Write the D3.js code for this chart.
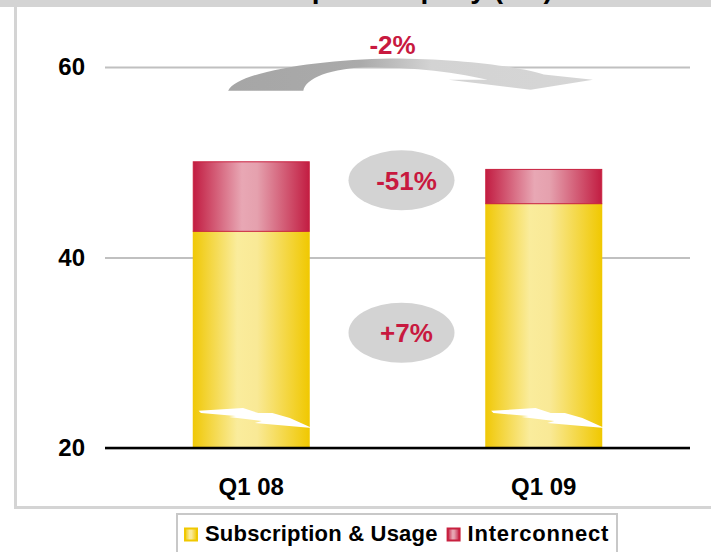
<!DOCTYPE html>
<html>
<head>
<meta charset="utf-8">
<script src="https://cdn.jsdelivr.net/npm/d3@7"></script>
<style>
  html, body { margin: 0; padding: 0; background: #fff; }
  svg { display: block; font-family: "Liberation Sans", Arial, sans-serif; }
</style>
</head>
<body>
<svg id="chart" width="711" height="552"></svg>
<script>
// data
const categories = ["Q1 08", "Q1 09"];
const subscription = [42.8, 45.7];
const interconnect = [7.3, 3.6];
const yTicks = [20, 40, 60];
const seriesNames = ["Subscription & Usage", "Interconnect"];
const changeLabels = ["-2%", "-51%", "+7%"];
const title = "Revenue per company (€m)";

const W = 711, H = 552;
const svg = d3.select("#chart");
const defs = svg.append("defs");

const x = d3.scaleBand().domain(categories).range([105, 690]).paddingInner(0.6).paddingOuter(0.3);
const y = d3.scaleLinear().domain([20, 60]).range([448, 67]);

// gradients
function hGrad(id, stops){
  const g = defs.append("linearGradient").attr("id", id)
    .attr("x1", "0%").attr("x2", "100%").attr("y1", "0%").attr("y2", "0%");
  stops.forEach(s => g.append("stop").attr("offset", s[0]).attr("stop-color", s[1]));
}
hGrad("gYellow", [["0%", "#f0c806"], ["38%", "#faec9c"], ["55%", "#f9e996"], ["100%", "#f0c800"]]);
hGrad("gRed", [["0%", "#c21d42"], ["42%", "#e8a7b4"], ["55%", "#e5a1ae"], ["100%", "#c21d42"]]);
const arrowGrad = defs.append("linearGradient").attr("id", "gArrow")
  .attr("gradientUnits", "userSpaceOnUse").attr("x1", 228).attr("x2", 597).attr("y1", 0).attr("y2", 0);
[["0%", "#a6a6a6"], ["36%", "#aaaaaa"], ["55%", "#d3d3d3"], ["100%", "#d6d6d6"]]
  .forEach(s => arrowGrad.append("stop").attr("offset", s[0]).attr("stop-color", s[1]));

// frame (the slide title sits above the crop, only its descenders show)
svg.append("rect").attr("x", 15.5).attr("y", 3.5).attr("width", 710).attr("height", 504)
  .attr("fill", "none").attr("stroke", "#d4d4d4").attr("stroke-width", 3);
svg.append("rect").attr("x", 0).attr("y", 0).attr("width", W).attr("height", 7).attr("fill", "#d4d4d4");
svg.append("text").attr("x", 370).attr("y", -2).attr("text-anchor", "middle")
  .attr("font-size", 28).attr("font-weight", "bold").attr("fill", "#000").text(title);

// grid + y labels
const yAxis = svg.append("g").attr("transform", "translate(105,0)")
  .call(d3.axisLeft(y).tickValues(yTicks).tickSize(-585).tickPadding(20).tickFormat(d3.format("d")));
yAxis.select(".domain").remove();
yAxis.selectAll(".tick line").attr("stroke", "#c0c0c0").attr("stroke-width", 2);
yAxis.selectAll(".tick text").attr("font-size", 24).attr("font-weight", "bold").attr("fill", "#000")
  .attr("font-family", "Liberation Sans, Arial, sans-serif");

// bars
const bars = svg.append("g");
categories.forEach((c, i) => {
  const x0 = x(c), bw = x.bandwidth();
  const s = subscription[i], t = subscription[i] + interconnect[i];
  bars.append("rect").attr("x", x0).attr("y", y(s)).attr("width", bw).attr("height", y(20) - y(s))
    .attr("fill", "url(#gYellow)");
  bars.append("rect").attr("x", x0 + 0.5).attr("y", y(t) + 0.5).attr("width", bw - 1).attr("height", y(s) - y(t))
    .attr("fill", "url(#gRed)").attr("stroke", "#c8203f").attr("stroke-width", 1);
});

// white flash near the bar bottoms (fraction of band, value)
const bolt = [[0.05, 23.9], [0.43, 24.2], [0.56, 23.67], [0.68, 23.67], [0.83, 23.15], [1.02, 22.1],
  [0.53, 22.62], [0.59, 22.83], [0.31, 23.25], [0.37, 23.36], [0.07, 23.67]];
categories.forEach(c => {
  bars.append("polygon")
    .attr("points", bolt.map(p => [x(c) + p[0] * x.bandwidth(), y(p[1])].join(",")).join(" "))
    .attr("fill", "#fff");
});

// base line
svg.append("line").attr("x1", 105).attr("x2", 690).attr("y1", y(20)).attr("y2", y(20))
  .attr("stroke", "#000").attr("stroke-width", 2.5);

// x labels
const xAxis = svg.append("g").attr("transform", `translate(0,${y(20)})`)
  .call(d3.axisBottom(x).tickSize(0).tickPadding(30));
xAxis.select(".domain").remove();
xAxis.selectAll(".tick text").attr("font-size", 24).attr("font-weight", "bold").attr("fill", "#000")
  .attr("font-family", "Liberation Sans, Arial, sans-serif");

// change annotations
const c1 = x(categories[0]) + x.bandwidth() / 2, c2 = x(categories[1]) + x.bandwidth() / 2;
const mx = (c1 + c2) / 2;
const P = (f, v) => [c1 + f * (c2 - c1), y(v)];
const pt = p => p.join(",");
const a = [P(-0.079, 57.5), P(-0.05, 59.5), P(0.236, 60.8), P(0.476, 60.9),
  P(0.716, 60.9), P(0.92, 60.0), P(1.0, 59.2), P(1.168, 58.66), P(0.955, 57.6), P(0.675, 58.66),
  P(0.808, 58.66), P(0.68, 59.6), P(0.51, 60.0), P(0.408, 60.0), P(0.27, 59.9), P(0.185, 58.8), P(0.178, 57.5)];
const arrowD = `M${pt(a[0])} C${pt(a[1])} ${pt(a[2])} ${pt(a[3])} C${pt(a[4])} ${pt(a[5])} ${pt(a[6])}` +
  ` L${pt(a[7])} L${pt(a[8])} L${pt(a[9])} L${pt(a[10])} C${pt(a[11])} ${pt(a[12])} ${pt(a[13])}` +
  ` C${pt(a[14])} ${pt(a[15])} ${pt(a[16])} Z`;
svg.append("path").attr("d", arrowD).attr("fill", "url(#gArrow)");

const red = "#c8193f";
svg.append("text").attr("x", mx - 5).attr("y", y(62.3)).attr("dy", "0.36em").attr("text-anchor", "middle")
  .attr("font-size", 26).attr("font-weight", "bold").attr("fill", red).text(changeLabels[0]);

[[changeLabels[1], 48.1], [changeLabels[2], 32.1]].forEach(d => {
  svg.append("ellipse").attr("cx", mx + 4).attr("cy", y(d[1])).attr("rx", 53).attr("ry", 30).attr("fill", "#d3d3d3");
  svg.append("text").attr("x", mx + 9).attr("y", y(d[1])).attr("dy", "0.36em").attr("text-anchor", "middle")
    .attr("font-size", 26).attr("font-weight", "bold").attr("fill", red).text(d[0]);
});

// legend
const lg = svg.append("g");
lg.append("rect").attr("x", 177).attr("y", 514).attr("width", 440).attr("height", 50)
  .attr("fill", "#fff").attr("stroke", "#c8c8c8").attr("stroke-width", 2);
const swatches = [["url(#gYellow)", "#f0c800"], ["url(#gRed)", "#c8203f"]];
let lx = 185;
seriesNames.forEach((name, i) => {
  lg.append("rect").attr("x", lx).attr("y", 528.5).attr("width", 12).attr("height", 12)
    .attr("fill", swatches[i][0]).attr("stroke", swatches[i][1]).attr("stroke-width", 2);
  const t = lg.append("text").attr("x", lx + 20).attr("y", 541).attr("font-size", 22).attr("font-weight", "bold")
    .attr("letter-spacing", i === 1 ? 0.8 : 0.2).attr("fill", "#000").text(name);
  lx += 20 + t.node().getComputedTextLength() + 10;
});
</script>
</body>
</html>
